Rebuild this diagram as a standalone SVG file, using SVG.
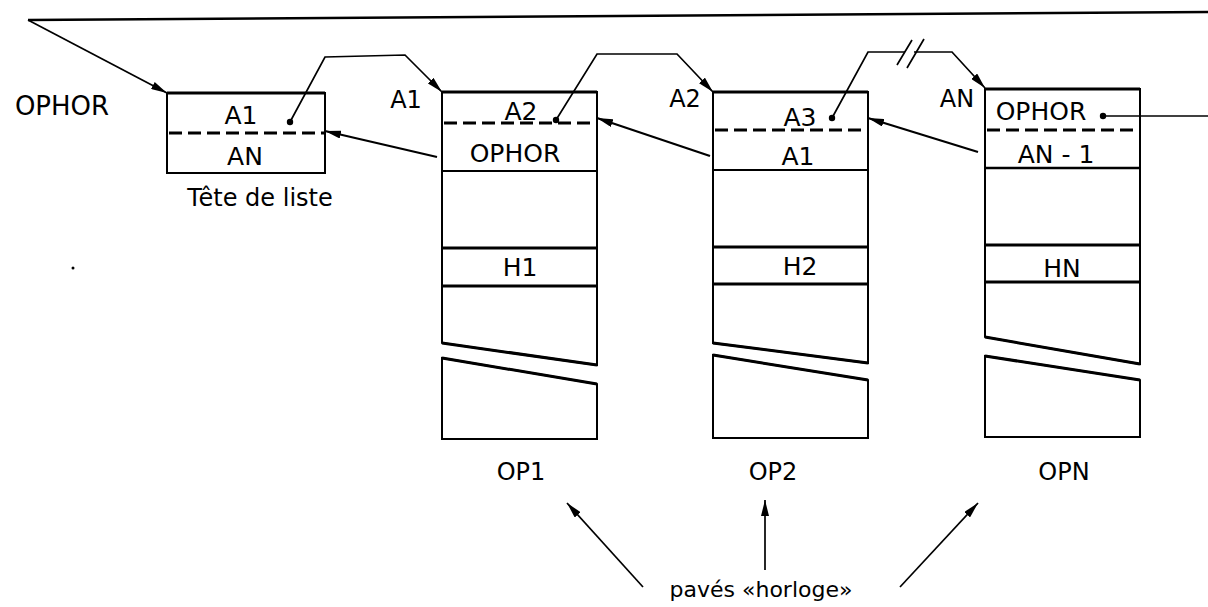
<svg xmlns="http://www.w3.org/2000/svg" width="1208" height="607" viewBox="0 0 1208 607">
<style>
text{font-family:"DejaVu Sans","Liberation Sans",sans-serif;fill:#000;text-anchor:middle}
.lb{font-size:25px}
.sm{font-size:24px}
.box{fill:none;stroke:#000;stroke-width:2;stroke-linejoin:miter}
.thick{stroke:#000;stroke-width:3;fill:none}
.dash{stroke:#000;stroke-width:3;stroke-dasharray:13 6;fill:none}
.con{stroke:#000;stroke-width:1.7;fill:none}
.back{stroke:#000;stroke-width:2.2;fill:none}
</style>
<defs>
<marker id="ah" viewBox="0 0 16 8" refX="16" refY="4" markerWidth="16" markerHeight="8" markerUnits="userSpaceOnUse" orient="auto">
<path d="M0,0 L16,4 L0,8 Z" fill="#000"/>
</marker>
</defs>
<rect width="1208" height="607" fill="#fff"/>

<g id="connectors">
<path class="thick" d="M1208,12 L28,20" style="stroke-width:2.5"/>
<path class="con" d="M28,20 L167,93" marker-end="url(#ah)"/>
<path class="con" d="M290,122 L325,57 L405,55 L442,92" marker-end="url(#ah)"/>
<path class="con" d="M556,120 L597,54 L677,54 L713,92" marker-end="url(#ah)"/>
<path class="con" d="M832,118 L868,52 L905,52 M914,52 L952,52 L985,88" marker-end="url(#ah)"/>
<path class="con" d="M897,65 L912,40 M907,68 L924,39"/>
<path class="back" d="M437,157 L325,131" marker-end="url(#ah)"/>
<path class="back" d="M710,156 L597,118" marker-end="url(#ah)"/>
<path class="back" d="M978,152 L868,118" marker-end="url(#ah)"/>
<path class="con" d="M1103,116 L1208,116"/>
<circle cx="290" cy="122" r="3.2"/>
<circle cx="556" cy="120" r="3.2"/>
<circle cx="832" cy="118" r="3.2"/>
<circle cx="1103" cy="116" r="3.2"/>
<path class="con" d="M643,587 L567,503" marker-end="url(#ah)"/>
<path class="con" d="M765,570 L765,500" marker-end="url(#ah)"/>
<path class="con" d="M900,587 L978,503" marker-end="url(#ah)"/>
</g>

<g id="ophor-label">
<text x="62" y="115" style="font-size:26px">OPHOR</text>
</g>

<g id="tete">
<rect class="box" x="167" y="93" width="158" height="80"/>
<path class="thick" d="M167,93 L325,93"/>
<path class="dash" d="M169,133 L325,133"/>
<text class="lb" x="241" y="124">A1</text>
<text class="lb" x="245" y="165">AN</text>
<text class="sm" x="260" y="206">Tête de liste</text>
</g>

<g id="op1">
<path class="box" d="M442,92 L597,92 L597,365 L442,343 Z"/>
<path class="box" d="M442,358 L597,384 L597,439 L442,439 Z"/>
<path class="thick" d="M442,92 L597,92"/>
<path class="dash" d="M444,123 L597,123"/>
<path class="box" d="M442,171 L597,171"/>
<path class="thick" d="M442,248 L597,248 M442,286 L597,286"/>
<path class="thick" d="M442,343 L597,365 M442,358 L597,384"/>
<text class="sm" x="406" y="108">A1</text>
<text class="lb" x="521" y="120">A2</text>
<text class="lb" x="515" y="162">OPHOR</text>
<text class="lb" x="520" y="276">H1</text>
<text class="sm" x="521" y="480">OP1</text>
</g>

<g id="op2">
<path class="box" d="M713,92 L868,92 L868,363 L713,343 Z"/>
<path class="box" d="M713,355 L868,380 L868,438 L713,438 Z"/>
<path class="thick" d="M713,92 L868,92"/>
<path class="dash" d="M715,130 L868,130"/>
<path class="box" d="M713,170 L868,170"/>
<path class="thick" d="M713,247 L868,247 M713,284 L868,284"/>
<path class="thick" d="M713,343 L868,363 M713,355 L868,380"/>
<text class="sm" x="685" y="107">A2</text>
<text class="lb" x="800" y="126">A3</text>
<text class="lb" x="798" y="165">A1</text>
<text class="lb" x="800" y="275">H2</text>
<text class="sm" x="773" y="480">OP2</text>
</g>

<g id="opn">
<path class="box" d="M985,89 L1140,89 L1140,364 L985,337 Z"/>
<path class="box" d="M985,356 L1140,380 L1140,437 L985,437 Z"/>
<path class="thick" d="M985,89 L1140,89"/>
<path class="dash" d="M987,130 L1140,130"/>
<path class="thick" d="M985,168 L1140,168" style="stroke-width:2.5"/>
<path class="thick" d="M985,245 L1140,245 M985,282 L1140,282"/>
<path class="thick" d="M985,337 L1140,364 M985,356 L1140,380"/>
<text class="sm" x="957" y="107">AN</text>
<text class="lb" x="1041" y="120">OPHOR</text>
<text class="lb" x="1056" y="163">AN - 1</text>
<text class="lb" x="1062" y="277">HN</text>
<text class="sm" x="1064" y="480">OPN</text>
</g>

<g id="horloge">
<text x="761" y="597" style="font-size:22px">pavés «horloge»</text>
</g>
<circle cx="73" cy="268" r="1.5"/>
</svg>
